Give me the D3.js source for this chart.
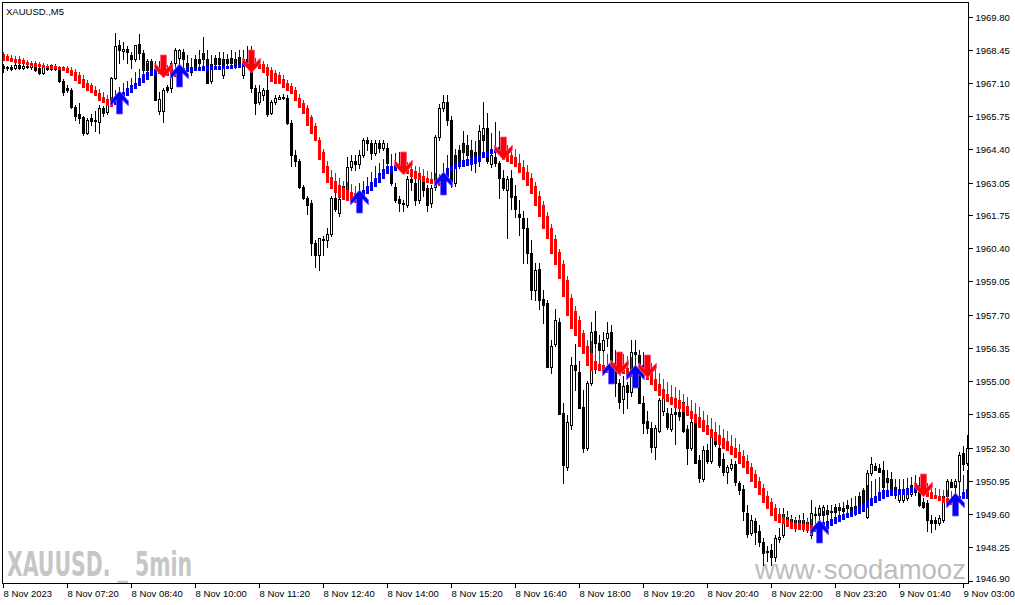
<!DOCTYPE html>
<html><head><meta charset="utf-8">
<script src="https://cdn.jsdelivr.net/npm/d3@7"></script>
<style>html,body{margin:0;padding:0;background:#fff;overflow:hidden}</style>
</head><body><svg id="c" width="1015" height="605"></svg>
<script>
// ---- DATA (XAUUSD., M5) ----
const barOpen = [
1967.77,1967.73,1967.73,1967.69,1967.85,1967.69,1967.81,1967.73,1967.81,1967.69,
1967.49,1967.77,1967.65,1967.81,1967.69,1967.20,1966.88,1966.80,1966.11,1965.86,
1965.70,1965.09,1965.66,1965.58,1965.50,1966.07,1965.94,1966.27,1967.32,1968.66,
1968.38,1968.50,1968.22,1968.09,1968.70,1968.30,1967.61,1968.01,1967.49,1965.98,
1965.98,1966.92,1966.88,1967.93,1968.13,1968.34,1967.81,1967.53,1968.09,1968.09,
1968.30,1968.09,1967.20,1967.89,1968.13,1967.41,1968.09,1968.13,1968.09,1968.17,
1967.41,1968.09,1967.93,1966.88,1966.31,1966.60,1966.80,1965.90,1966.31,1966.47,
1966.51,1966.51,1965.46,1964.16,1963.95,1962.86,1962.45,1962.21,1960.59,1960.10,
1960.75,1960.71,1960.95,1962.45,1961.84,1962.90,1962.74,1963.67,1963.95,1963.83,
1964.16,1964.77,1964.65,1964.24,1964.65,1964.48,1964.48,1963.55,1962.86,1962.41,
1962.21,1962.13,1963.22,1963.02,1962.33,1963.22,1962.82,1962.21,1962.86,1964.89,
1966.07,1966.31,1965.58,1963.02,1963.95,1964.65,1964.57,1964.36,1963.87,1963.95,
1964.77,1965.29,1963.83,1964.08,1963.87,1963.26,1962.74,1963.26,1962.53,1961.80,
1961.60,1961.23,1960.18,1958.68,1959.53,1958.35,1958.15,1955.55,1956.52,1957.38,
1953.72,1951.49,1953.20,1955.63,1955.35,1953.93,1952.26,1954.90,1957.05,1956.56,
1956.24,1956.73,1956.97,1955.75,1954.90,1954.25,1954.82,1954.54,1956.16,1956.04,
1954.09,1953.36,1953.11,1952.34,1952.99,1953.80,1953.72,1953.07,1953.76,1953.76,
1954.13,1953.07,1952.26,1953.28,1951.81,1951.04,1952.18,1951.77,1952.67,1952.30,
1951.85,1951.29,1951.45,1951.65,1950.84,1950.60,1949.66,1948.81,1949.30,1948.93,
1948.45,1948.08,1948.12,1947.84,1948.57,1948.73,1949.46,1949.38,1949.34,1949.34,
1949.34,1949.26,1948.73,1949.54,1949.54,1949.54,1949.78,1949.74,1949.70,1949.87,
1949.83,1949.83,1949.87,1949.62,1949.95,1950.56,1949.46,1951.25,1951.53,1951.45,
1951.37,1950.88,1951.04,1950.43,1950.15,1950.15,1950.23,1950.43,1950.48,1950.76,
1950.07,1950.03,1949.34,1949.34,1949.22,1949.34,1950.35,1950.88,1950.68,1950.96,
1952.06,1951.69];
const barHigh = [
1967.89,1967.81,1967.85,1967.93,1967.89,1967.89,1967.89,1967.93,1967.85,1967.77,
1967.85,1967.85,1967.89,1967.89,1967.77,1967.28,1967.00,1966.88,1966.19,1966.27,
1965.78,1965.66,1965.86,1965.98,1966.19,1966.15,1966.39,1967.36,1969.15,1968.83,
1968.75,1968.62,1968.34,1968.66,1969.07,1968.42,1968.09,1968.09,1967.61,1966.72,
1966.88,1967.00,1968.01,1968.54,1968.50,1968.50,1968.22,1968.13,1968.22,1968.42,
1968.95,1968.42,1968.01,1968.22,1968.34,1968.34,1968.22,1968.42,1968.34,1968.42,
1968.42,1968.62,1968.62,1967.00,1967.00,1966.88,1967.41,1966.39,1966.60,1966.60,
1966.64,1966.60,1965.58,1964.36,1964.03,1962.94,1962.53,1962.33,1960.71,1960.79,
1960.87,1961.23,1962.53,1962.94,1962.53,1963.14,1964.08,1964.16,1964.16,1964.36,
1964.85,1964.89,1964.77,1964.77,1964.77,1964.77,1964.65,1963.75,1963.02,1962.53,
1962.33,1963.34,1963.34,1963.34,1963.34,1963.47,1962.94,1962.94,1964.97,1966.23,
1966.60,1966.60,1965.78,1964.36,1964.57,1965.17,1964.97,1964.77,1964.44,1965.38,
1966.31,1965.90,1964.36,1965.50,1963.95,1963.55,1963.34,1963.55,1962.94,1962.33,
1961.92,1961.60,1960.71,1959.81,1959.81,1958.68,1958.27,1956.65,1957.94,1957.54,
1954.09,1953.60,1955.96,1956.52,1955.83,1954.62,1955.02,1957.38,1957.86,1956.85,
1956.97,1957.38,1957.26,1956.04,1955.10,1955.22,1954.94,1956.65,1956.65,1956.24,
1954.41,1953.80,1953.32,1953.20,1954.29,1954.54,1953.89,1953.89,1954.09,1954.01,
1954.29,1953.20,1953.52,1953.48,1951.98,1952.38,1952.46,1952.91,1952.87,1952.59,
1952.06,1951.57,1951.85,1951.77,1950.96,1950.76,1949.95,1949.54,1949.42,1949.14,
1948.61,1948.32,1948.40,1948.73,1949.05,1949.83,1949.74,1949.54,1949.46,1949.54,
1949.66,1949.42,1950.15,1949.87,1949.95,1949.95,1949.95,1949.95,1949.99,1950.03,
1949.99,1950.07,1950.03,1950.07,1950.43,1950.64,1951.37,1951.90,1951.69,1951.65,
1951.77,1951.37,1951.29,1950.76,1950.56,1950.56,1950.64,1950.88,1950.96,1950.96,
1950.23,1950.15,1949.54,1949.46,1949.54,1950.56,1951.04,1951.04,1951.04,1952.10,
1952.38,1952.79];
const barLow = [
1967.53,1967.61,1967.61,1967.65,1967.65,1967.65,1967.69,1967.65,1967.57,1967.45,
1967.45,1967.61,1967.61,1967.61,1967.16,1966.60,1966.72,1966.07,1965.58,1965.46,
1964.97,1965.01,1965.38,1965.17,1965.09,1965.78,1965.86,1966.19,1967.28,1967.93,
1968.09,1967.93,1967.69,1968.01,1968.09,1967.53,1967.53,1967.49,1966.39,1965.86,
1965.50,1966.72,1966.72,1967.81,1968.01,1967.61,1967.73,1967.41,1967.73,1967.81,
1967.81,1967.08,1967.12,1967.85,1967.81,1967.32,1967.81,1967.85,1967.69,1967.89,
1967.32,1967.81,1966.72,1965.86,1966.23,1966.39,1965.78,1965.86,1966.23,1966.43,
1966.43,1965.42,1963.75,1963.75,1962.82,1962.41,1961.80,1960.10,1959.61,1959.49,
1960.10,1960.43,1960.87,1961.92,1961.72,1962.66,1962.62,1963.55,1963.55,1963.63,
1964.08,1964.36,1964.03,1964.16,1964.28,1964.36,1963.55,1962.94,1962.25,1961.92,
1961.92,1962.05,1962.74,1962.13,1962.21,1962.53,1961.92,1962.05,1962.74,1964.77,
1965.98,1965.38,1962.86,1962.90,1963.63,1964.16,1963.95,1963.55,1963.47,1963.75,
1964.69,1963.87,1963.67,1963.75,1962.45,1962.74,1960.79,1962.00,1961.64,1960.91,
1959.81,1959.81,1958.35,1958.27,1957.94,1957.34,1955.55,1955.31,1956.44,1953.68,
1950.84,1951.37,1953.07,1954.62,1953.89,1952.10,1952.18,1954.82,1955.31,1955.83,
1955.96,1956.44,1955.10,1954.41,1953.89,1953.72,1953.89,1954.41,1955.83,1954.09,
1952.87,1952.87,1952.10,1951.85,1952.91,1953.60,1953.07,1952.99,1952.46,1953.40,
1952.91,1951.65,1952.18,1951.69,1950.88,1950.96,1951.69,1951.69,1952.38,1951.49,
1951.17,1950.84,1951.37,1950.76,1950.43,1949.34,1948.65,1948.73,1948.40,1948.32,
1947.51,1947.71,1947.51,1947.71,1948.45,1948.65,1949.22,1949.05,1948.93,1949.14,
1948.93,1948.85,1948.61,1949.34,1949.46,1949.46,1949.54,1949.58,1949.62,1949.66,
1949.62,1949.74,1949.66,1949.54,1949.87,1949.91,1949.42,1951.17,1951.37,1951.29,
1950.56,1950.76,1950.48,1950.27,1950.07,1950.07,1950.15,1950.35,1950.39,1949.91,
1949.83,1948.93,1948.85,1949.01,1949.14,1949.26,1950.27,1950.68,1950.64,1950.88,
1951.37,1951.57];
const barClose = [
1967.69,1967.71,1967.65,1967.85,1967.69,1967.81,1967.73,1967.85,1967.61,1967.49,
1967.77,1967.65,1967.85,1967.65,1967.20,1966.72,1966.80,1966.11,1965.74,1965.66,
1965.05,1965.58,1965.54,1965.54,1966.07,1965.90,1966.23,1967.32,1968.62,1968.42,
1968.50,1968.34,1968.09,1968.66,1968.30,1967.61,1968.01,1967.53,1966.39,1966.47,
1966.80,1966.80,1967.93,1968.42,1968.42,1968.09,1967.93,1967.73,1967.77,1967.93,
1968.09,1967.12,1967.89,1968.13,1967.89,1968.09,1967.93,1967.93,1967.77,1967.89,
1968.09,1967.93,1966.88,1966.27,1966.72,1966.80,1965.86,1966.31,1966.51,1966.55,
1966.55,1965.46,1964.16,1963.95,1962.86,1962.45,1962.13,1960.59,1960.10,1960.79,
1960.71,1960.95,1962.45,1962.00,1962.41,1962.74,1963.67,1963.95,1963.83,1964.16,
1964.77,1964.65,1964.24,1964.65,1964.48,1964.65,1963.87,1963.02,1962.33,1962.21,
1962.17,1963.22,1963.06,1962.33,1963.22,1962.74,1962.13,1962.82,1964.89,1966.07,
1966.31,1965.58,1963.14,1964.16,1964.36,1964.28,1964.16,1963.87,1964.28,1965.17,
1965.29,1963.95,1964.16,1963.87,1963.26,1962.82,1963.22,1962.49,1962.00,1961.64,
1961.23,1960.18,1958.68,1959.49,1958.27,1958.07,1955.55,1956.44,1957.46,1953.68,
1951.57,1953.32,1955.63,1955.43,1953.89,1952.30,1954.90,1956.97,1956.56,1956.24,
1956.65,1956.93,1955.83,1954.90,1954.13,1954.78,1954.54,1956.16,1956.08,1954.09,
1953.28,1953.11,1952.34,1953.11,1954.21,1954.41,1953.15,1953.68,1953.68,1953.56,
1952.99,1952.26,1953.32,1951.69,1951.08,1952.18,1951.77,1952.79,1952.46,1951.57,
1951.29,1951.49,1951.61,1950.88,1950.56,1949.74,1948.77,1949.34,1948.85,1948.45,
1948.00,1948.04,1947.84,1948.61,1948.65,1949.62,1949.34,1949.14,1949.05,1949.22,
1949.14,1949.01,1949.66,1949.62,1949.83,1949.87,1949.62,1949.70,1949.87,1949.78,
1949.74,1949.95,1949.74,1949.91,1950.35,1949.95,1951.25,1951.65,1951.37,1951.29,
1950.68,1951.08,1950.56,1950.68,1950.43,1950.48,1950.56,1950.76,1950.84,1949.95,
1949.87,1949.34,1949.22,1949.22,1949.42,1950.35,1950.96,1950.68,1950.96,1951.98,
1951.65,1952.30];

// Smoothed Heiken Ashi indicator values
const haOpen = [
1968.26,1968.18,1968.13,1968.09,1968.09,1968.05,1967.97,1967.93,1967.93,1967.89,
1967.85,1967.81,1967.81,1967.77,1967.73,1967.73,1967.69,1967.61,1967.53,1967.41,
1967.28,1967.12,1967.00,1966.80,1966.68,1966.55,1966.43,1966.39,1966.23,1966.35,
1966.47,1966.60,1966.72,1966.88,1967.00,1967.16,1967.28,1967.41,1967.45,1967.49,
1967.69,1967.65,1967.61,1967.61,1967.45,1967.49,1967.57,1967.57,1967.61,1967.61,
1967.61,1967.61,1967.65,1967.65,1967.65,1967.69,1967.69,1967.69,1967.73,1967.73,
1967.77,1967.77,1967.93,1967.93,1967.89,1967.89,1967.73,1967.61,1967.49,1967.41,
1967.28,1967.12,1966.96,1966.80,1966.51,1966.27,1966.07,1965.70,1965.34,1964.77,
1964.28,1963.75,1963.30,1963.14,1962.94,1962.82,1962.74,1962.66,1962.62,1962.33,
1962.45,1962.62,1962.74,1962.90,1963.06,1963.26,1963.43,1963.47,1963.55,1963.59,
1963.79,1963.67,1963.59,1963.51,1963.43,1963.34,1963.26,1963.22,1963.18,1963.14,
1963.06,1963.34,1963.55,1963.63,1963.71,1963.75,1963.79,1963.83,1963.87,1963.95,
1964.08,1964.12,1964.24,1964.28,1964.32,1964.36,1964.24,1964.16,1964.08,1963.87,
1963.67,1963.47,1963.26,1962.90,1962.53,1962.13,1961.72,1961.23,1960.75,1960.22,
1959.77,1959.12,1958.39,1957.86,1957.46,1956.93,1956.44,1956.12,1955.83,1955.71,
1955.67,1955.59,1955.39,1955.47,1955.67,1955.59,1955.51,1955.47,1955.26,1955.35,
1955.39,1955.51,1955.35,1955.10,1954.86,1954.66,1954.49,1954.37,1954.29,1954.21,
1954.09,1953.97,1953.80,1953.68,1953.52,1953.40,1953.20,1953.07,1952.91,1952.79,
1952.67,1952.55,1952.38,1952.26,1952.10,1951.94,1951.77,1951.49,1951.21,1950.96,
1950.64,1950.35,1950.07,1949.83,1949.62,1949.46,1949.34,1949.26,1949.22,1949.22,
1949.18,1949.18,1949.14,1949.14,1948.97,1949.01,1949.05,1949.14,1949.22,1949.30,
1949.38,1949.46,1949.50,1949.58,1949.66,1949.74,1949.87,1949.95,1950.07,1950.15,
1950.27,1950.35,1950.39,1950.39,1950.43,1950.43,1950.43,1950.48,1950.52,1950.52,
1950.68,1950.56,1950.48,1950.39,1950.35,1950.27,1950.23,1950.19,1950.03,1950.15,
1950.23,1950.27];
const haClose = [
1968.05,1968.05,1968.01,1967.97,1967.93,1967.93,1967.89,1967.85,1967.81,1967.77,
1967.73,1967.73,1967.69,1967.69,1967.65,1967.61,1967.53,1967.41,1967.24,1967.08,
1966.92,1966.80,1966.72,1966.60,1966.39,1966.31,1966.19,1966.15,1966.47,1966.60,
1966.72,1966.88,1967.00,1967.12,1967.32,1967.45,1967.53,1967.61,1967.65,1967.69,
1967.45,1967.41,1967.41,1967.37,1967.65,1967.69,1967.73,1967.73,1967.73,1967.73,
1967.77,1967.77,1967.77,1967.77,1967.81,1967.81,1967.81,1967.85,1967.85,1967.89,
1967.89,1967.93,1967.77,1967.73,1967.69,1967.53,1967.41,1967.20,1967.12,1967.08,
1966.92,1966.80,1966.68,1966.39,1966.11,1965.90,1965.38,1965.09,1964.77,1964.03,
1963.47,1963.06,1962.82,1962.66,1962.49,1962.41,1962.33,1962.29,1962.25,1962.62,
1962.74,1962.90,1963.06,1963.26,1963.43,1963.59,1963.71,1963.75,1963.79,1963.83,
1963.47,1963.43,1963.34,1963.26,1963.22,1963.14,1963.06,1963.02,1962.98,1962.94,
1963.34,1963.63,1963.75,1963.83,1963.95,1963.99,1964.03,1964.08,1964.12,1964.16,
1964.28,1964.32,1964.44,1964.48,1964.52,1964.03,1963.95,1963.87,1963.71,1963.47,
1963.22,1962.94,1962.62,1962.13,1961.72,1961.23,1960.79,1960.18,1959.77,1959.20,
1958.47,1957.66,1957.17,1956.85,1956.44,1956.12,1955.63,1955.43,1955.47,1955.43,
1955.39,1955.35,1955.67,1955.75,1955.39,1955.31,1955.26,1955.22,1955.55,1955.63,
1955.67,1955.10,1954.86,1954.62,1954.45,1954.29,1954.17,1954.05,1953.93,1953.89,
1953.80,1953.64,1953.48,1953.32,1953.15,1952.99,1952.83,1952.71,1952.59,1952.43,
1952.30,1952.18,1952.02,1951.90,1951.69,1951.49,1951.25,1950.96,1950.68,1950.43,
1950.07,1949.83,1949.54,1949.34,1949.26,1949.22,1949.10,1949.05,1949.05,1949.01,
1949.01,1948.97,1948.97,1948.93,1949.22,1949.26,1949.30,1949.38,1949.46,1949.54,
1949.58,1949.66,1949.74,1949.83,1949.91,1950.03,1950.15,1950.27,1950.35,1950.48,
1950.56,1950.56,1950.60,1950.56,1950.60,1950.60,1950.64,1950.68,1950.72,1950.72,
1950.48,1950.35,1950.27,1950.23,1950.15,1950.07,1950.03,1949.99,1950.27,1950.35,
1950.48,1950.60];
const haHigh = [
1968.34,1968.26,1968.22,1968.18,1968.18,1968.13,1968.05,1968.01,1968.01,1967.97,
1967.93,1967.89,1967.89,1967.85,1967.81,1967.81,1967.77,1967.73,1967.65,1967.53,
1967.41,1967.24,1967.12,1966.96,1966.84,1966.72,1966.60,1966.55,1966.80,1966.92,
1967.08,1967.20,1967.32,1967.53,1967.65,1967.81,1967.93,1968.01,1968.01,1968.01,
1967.93,1967.85,1967.81,1967.81,1968.01,1968.09,1968.13,1968.13,1968.18,1968.22,
1968.34,1968.26,1968.22,1968.22,1968.26,1968.30,1968.26,1968.30,1968.30,1968.34,
1968.34,1968.42,1968.22,1968.13,1968.09,1968.01,1967.89,1967.73,1967.61,1967.53,
1967.41,1967.24,1967.08,1966.92,1966.64,1966.39,1966.19,1965.82,1965.46,1964.89,
1964.40,1963.95,1963.55,1963.43,1963.26,1963.14,1963.06,1962.98,1962.90,1963.02,
1963.14,1963.30,1963.47,1963.71,1963.87,1964.03,1964.16,1964.20,1964.24,1964.28,
1964.03,1963.91,1963.83,1963.75,1963.67,1963.59,1963.51,1963.47,1963.43,1963.39,
1963.87,1964.16,1964.36,1964.44,1964.57,1964.61,1964.65,1964.69,1964.73,1964.77,
1964.97,1965.01,1965.09,1965.17,1965.17,1964.69,1964.57,1964.48,1964.40,1964.20,
1963.99,1963.79,1963.43,1963.06,1962.70,1962.29,1961.88,1961.39,1960.91,1960.38,
1959.93,1959.28,1958.55,1958.03,1957.62,1957.09,1956.65,1956.61,1956.32,1956.20,
1956.16,1956.08,1956.16,1956.24,1956.16,1956.08,1956.00,1955.96,1956.04,1956.12,
1956.16,1955.96,1955.75,1955.55,1955.31,1955.10,1954.94,1954.82,1954.74,1954.62,
1954.49,1954.37,1954.21,1954.09,1953.93,1953.80,1953.60,1953.48,1953.32,1953.20,
1953.07,1952.95,1952.79,1952.67,1952.46,1952.18,1951.98,1951.69,1951.37,1951.12,
1950.80,1950.52,1950.23,1949.99,1949.83,1949.66,1949.54,1949.46,1949.42,1949.42,
1949.38,1949.38,1949.38,1949.38,1949.66,1949.74,1949.83,1949.91,1949.95,1950.03,
1950.07,1950.15,1950.27,1950.35,1950.48,1950.64,1950.76,1950.96,1951.04,1951.12,
1951.17,1951.12,1951.12,1951.04,1951.04,1951.04,1951.08,1951.12,1951.17,1951.12,
1950.96,1950.84,1950.72,1950.64,1950.60,1950.56,1950.56,1950.52,1950.76,1950.96,
1951.17,1951.37];

// Signal arrows (bar indexes)
const upArrowBars = [29, 44, 89, 110, 152, 158, 204, 238];
const downArrowBars = [40, 62, 100, 125, 154, 161, 230];

// Axis ticks
const priceTicks = [1969.80,1968.45,1967.10,1965.75,1964.40,1963.05,1961.75,1960.40,1959.05,
  1957.70,1956.35,1955.00,1953.65,1952.30,1950.95,1949.60,1948.25,1946.90];
const timeTickBars = [0,16,32,48,64,80,96,112,128,144,160,176,192,208,224,240];
const timeTickLabels = ["8 Nov 2023","8 Nov 07:20","8 Nov 08:40","8 Nov 10:00","8 Nov 11:20",
  "8 Nov 12:40","8 Nov 14:00","8 Nov 15:20","8 Nov 16:40","8 Nov 18:00","8 Nov 19:20",
  "8 Nov 20:40","8 Nov 22:00","8 Nov 23:20","9 Nov 01:40","9 Nov 03:00"];

// ---- DRAWING ----
const svg = d3.select("#c");
const P = {l:2, t:2, r:968, b:583};
const n = barOpen.length;
const x = d3.scaleLinear().domain([0, n - 1]).range([3, 3 + 4 * (n - 1)]);
const y = d3.scaleLinear().domain([1946.90, 1969.80]).range([580.5, 16.5]);
const font = "'Liberation Sans', Arial, sans-serif";

svg.append("rect").attr("width",1015).attr("height",605).attr("fill","#fff");
svg.append("defs").append("clipPath").attr("id","pc").append("rect")
  .attr("x",P.l).attr("y",P.t).attr("width",P.r-P.l).attr("height",P.b-P.t);

// watermarks (behind the chart)
svg.append("text").attr("x",7).attr("y",576)
  .attr("font-family","'Liberation Sans Narrow','DejaVu Sans Condensed',sans-serif")
  .attr("font-weight","bold").attr("font-size",33).attr("fill","#c6c6c6")
  .attr("textLength",185).attr("lengthAdjust","spacingAndGlyphs")
  .text("XAUUSD. _ 5min");
svg.append("text").attr("x",755).attr("y",579)
  .attr("font-family",font).attr("font-size",27.5).attr("fill","#bdbdbd")
  .text("www\u00B7soodamooz");

const g = svg.append("g").attr("clip-path","url(#pc)");
const R = v => Math.round(y(v));
const idx = d3.range(n);

// candles
const cg = g.append("g").attr("shape-rendering","crispEdges");
idx.forEach(i => {
  const cx = Math.round(x(i));
  const o = R(barOpen[i]), c = R(barClose[i]), h = R(barHigh[i]), l = R(barLow[i]);
  const top = Math.min(o, c), bot = Math.max(o, c);
  cg.append("rect").attr("x",cx).attr("y",h).attr("width",1).attr("height",Math.max(1,l-h+1)).attr("fill","#000");
  if (barClose[i] > barOpen[i]) {
    cg.append("rect").attr("x",cx-0.5).attr("y",top+0.5).attr("width",2).attr("height",Math.max(0,bot-top))
      .attr("fill","#fff").attr("stroke","#000").attr("stroke-width",1);
  } else {
    cg.append("rect").attr("x",cx-1).attr("y",top).attr("width",3).attr("height",Math.max(1,bot-top+1)).attr("fill","#000");
  }
});

// heiken ashi smoothed
const RED = "#ff0000", BLUE = "#0000e6";
const hg = g.append("g").attr("shape-rendering","crispEdges");
idx.forEach(i => {
  const cx = Math.round(x(i));
  const col = haClose[i] < haOpen[i] ? RED : BLUE;
  const top = R(Math.max(haOpen[i], haClose[i])), bot = R(Math.min(haOpen[i], haClose[i]));
  const hh = R(haHigh[i]);
  if (hh < top) hg.append("rect").attr("x",cx).attr("y",hh).attr("width",1).attr("height",top-hh).attr("fill",col);
  hg.append("rect").attr("x",cx-1).attr("y",top).attr("width",3).attr("height",Math.max(2,bot-top+1)).attr("fill",col);
});

// arrows
const shape = [[0,0],[9,10],[9,15],[3,9],[3,23],[-3,23],[-3,9],[-9,15],[-9,10]];
function arrow(cx, tipY, dir) {
  return "M" + shape.map(p => (cx + p[0]) + "," + (tipY + dir * p[1])).join("L") + "Z";
}
const ag = g.append("g");
upArrowBars.forEach(i => {
  const cx = Math.round(x(i)) + 0.5;
  const tip = R(Math.min(haOpen[i], haClose[i])) - 10;
  ag.append("path").attr("d", arrow(cx, tip, 1)).attr("fill","#0000ff")
    .attr("stroke","#7b5cff").attr("stroke-width",0.8);
});
downArrowBars.forEach(i => {
  const cx = Math.round(x(i)) + 0.5;
  const tip = R(Math.max(haOpen[i], haClose[i])) + 10;
  ag.append("path").attr("d", arrow(cx, tip, -1)).attr("fill","#ff0000")
    .attr("stroke","#ff5c8a").attr("stroke-width",0.8);
});

// frame
const fg = svg.append("g").attr("stroke","#000").attr("stroke-width",1).attr("shape-rendering","crispEdges");
fg.append("line").attr("x1",P.l+0.5).attr("x2",P.l+0.5).attr("y1",P.t).attr("y2",P.b+1);
fg.append("line").attr("x1",P.l).attr("x2",P.r+1).attr("y1",P.t+0.5).attr("y2",P.t+0.5);
fg.append("line").attr("x1",P.r+0.5).attr("x2",P.r+0.5).attr("y1",P.t).attr("y2",P.b+1);
fg.append("line").attr("x1",P.l).attr("x2",P.r+1).attr("y1",P.b+0.5).attr("y2",P.b+0.5);

// price axis
const yAxis = d3.axisRight(y).tickValues(priceTicks).tickFormat(d3.format(".2f"))
  .tickSize(4).tickPadding(3).tickSizeOuter(0);
const ya = svg.append("g").attr("transform",`translate(${P.r+0.5},0)`).call(yAxis);
ya.select(".domain").remove();
ya.selectAll("line").attr("shape-rendering","crispEdges").attr("stroke","#000");
ya.selectAll(".tick").attr("transform", d => `translate(0,${Math.round(y(d))+0.5})`);
ya.selectAll("text").attr("font-family",font).attr("font-size",9.5).attr("fill","#000");
ya.selectAll(".tick").filter(d => d === 1946.90).select("text").attr("dy","0.1em");

// time axis
const labelOf = new Map(timeTickBars.map((b, k) => [b, timeTickLabels[k]]));
const xAxis = d3.axisBottom(x).tickValues(timeTickBars).tickFormat(b => labelOf.get(b))
  .tickSize(4).tickPadding(3).tickSizeOuter(0);
const xa = svg.append("g").attr("transform",`translate(0.5,${P.b+0.5})`).call(xAxis);
xa.select(".domain").remove();
xa.selectAll(".tick").attr("transform", d => `translate(${Math.round(x(d))},0)`);
xa.selectAll("line").attr("shape-rendering","crispEdges").attr("stroke","#000");
xa.selectAll("text").attr("text-anchor","start").attr("x",0)
  .attr("font-family",font).attr("font-size",9.5).attr("fill","#000");

// title
svg.append("text").attr("x",6).attr("y",15).attr("font-family",font).attr("font-size",9.5)
  .attr("fill","#000").text("XAUUSD.,M5");
</script>
</body></html>
